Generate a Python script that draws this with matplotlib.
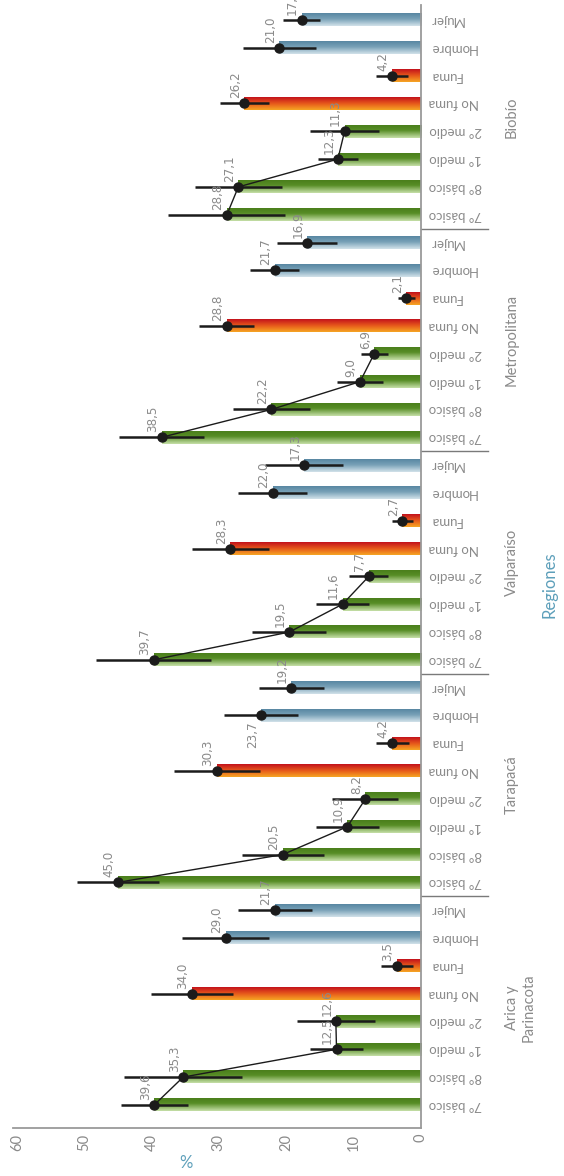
import matplotlib
matplotlib.use('Agg')
import matplotlib.pyplot as plt
import numpy as np
from matplotlib.colors import to_rgb

# regiones de abajo hacia arriba
regions = ['Arica y\nParinacota', 'Tarapacá', 'Valparaíso', 'Metropolitana', 'Biobío']
categories = ['7° básico', '8° básico', '1° medio', '2° medio', 'No fuma', 'Fuma', 'Hombre', 'Mujer']
kinds = ['green', 'green', 'green', 'green', 'red', 'red', 'blue', 'blue']

arica = [39.6, 35.3, 12.5, 12.6, 34.0, 3.5, 29.0, 21.7]
tarapaca = [45.0, 20.5, 10.9, 8.2, 30.3, 4.2, 23.7, 19.2]
valparaiso = [39.7, 19.5, 11.6, 7.7, 28.3, 2.7, 22.0, 17.3]
metropolitana = [38.5, 22.2, 9.0, 6.9, 28.8, 2.1, 21.7, 16.9]
biobio = [28.8, 27.1, 12.3, 11.3, 26.2, 4.2, 21.0, 17.7]

# semi-ancho de los intervalos
arica_err = [5.0, 8.8, 4.0, 5.8, 6.1, 2.4, 6.4, 5.5]
tarapaca_err = [6.1, 6.1, 4.7, 4.9, 6.4, 2.5, 5.5, 4.9]
valparaiso_err = [8.5, 5.5, 3.9, 2.9, 5.7, 1.6, 5.1, 5.8]
metropolitana_err = [6.3, 5.7, 3.4, 2.0, 4.1, 1.2, 3.6, 4.5]
biobio_err = [8.7, 6.5, 3.0, 5.1, 3.6, 2.4, 5.4, 2.8]

values = [arica, tarapaca, valparaiso, metropolitana, biobio]
errors = [arica_err, tarapaca_err, valparaiso_err, metropolitana_err, biobio_err]

label_below = [('Tarapacá', 'Hombre')]

grad_stops = {
    'green': [(0.0, '#4a7f1c'), (0.4, '#578d26'), (1.0, '#c6dfa8')],
    'red': [(0.0, '#c3121c'), (0.5, '#e6581b'), (1.0, '#f6a624')],
    'blue': [(0.0, '#5887a2'), (0.45, '#78a1b7'), (1.0, '#d2e2ea')],
}

GREY = '#8a8a8a'
BLUE_TXT = '#5d9fba'
BLACK = '#1b1b1b'
FAM = ['Lato', 'DejaVu Sans']


def make_gradient(kind, n=64):
    stops = grad_stops[kind]
    pos = [s[0] for s in stops]
    cols = np.array([to_rgb(s[1]) for s in stops])
    t = np.linspace(0, 1, n)
    img = np.stack([np.interp(t, pos, cols[:, k]) for k in range(3)], axis=1)
    return img.reshape(n, 1, 3)


def fmt(v):
    return f'{v:.1f}'.replace('.', ',')


fig = plt.figure(figsize=(5.64, 11.76), dpi=100)
ax = fig.add_axes([13 / 564, 48 / 1176, (420.6 - 13) / 564, 1123 / 1176])

bar_h = 0.46
gradients = {k: make_gradient(k) for k in grad_stops}
all_y = []
for r, (region, vals, errs) in enumerate(zip(regions, values, errors)):
    ys = [r * 8 + c for c in range(len(categories))]
    all_y += ys
    for v, y, kind in zip(vals, ys, kinds):
        ax.imshow(gradients[kind], extent=(0, v, y - bar_h / 2, y + bar_h / 2),
                  aspect='auto', origin='upper', interpolation='bilinear', zorder=1)
    # linea entre cursos
    ax.plot(vals[:4], ys[:4], color=BLACK, lw=1.0, zorder=2)
    ax.errorbar(vals, ys, xerr=errs, fmt='o', color=BLACK, ms=6.5,
                elinewidth=1.8, capsize=0, zorder=3)
    for v, y, cat in zip(vals, ys, categories):
        below = (region, cat) in label_below
        ax.annotate(fmt(v), (v, y), xytext=(-9, -6 if below else 5),
                    textcoords='offset pixels', rotation=90, ha='center',
                    va='top' if below else 'bottom', color=GREY, fontsize=9.5,
                    family=['Liberation Sans Narrow', 'DejaVu Sans'],
                    fontstretch='condensed', zorder=4)
    ax.text(1.224 if r > 0 else 1.244, r * 8 + 3.5, region,
            transform=ax.get_yaxis_transform(), rotation=90, ha='center',
            va='center', multialignment='center', color=GREY, fontsize=10.5,
            family=FAM)

for b in [7.5, 15.5, 23.5, 31.5]:
    ax.plot([1, 1.165], [b, b], transform=ax.get_yaxis_transform(),
            color='#7a7a7a', lw=1.0, clip_on=False)

ax.set_xlim(60.6, 0)
ax.set_ylim(-0.83, 39.54)

ax.set_xticks(range(0, 61, 10))
ax.set_xticklabels([str(t) for t in range(0, 61, 10)], rotation=90, family=FAM)
ax.tick_params(axis='x', length=0, pad=4, labelcolor=GREY, labelsize=10.5)

ax.yaxis.tick_right()
ax.set_yticks(all_y)
ax.set_yticklabels(categories * len(regions), rotation=180, va='center',
                   ha='left', family=FAM)
ax.tick_params(axis='y', length=0, pad=6, labelcolor=GREY, labelsize=9.5)

for side in ['left', 'top']:
    ax.spines[side].set_visible(False)
for side in ['bottom', 'right']:
    ax.spines[side].set_color('#9a9a9a')
    ax.spines[side].set_linewidth(1.3)

ax.text(1.317, 18.7, 'Regiones', transform=ax.get_yaxis_transform(),
        rotation=90, ha='center', va='center', color=BLUE_TXT, fontsize=12,
        family=FAM)
fig.text(186 / 564, 1 - 1163 / 1176, '%', ha='center', va='center',
         color=BLUE_TXT, fontsize=12, family=FAM)

fig.savefig('out.png', dpi=100)
